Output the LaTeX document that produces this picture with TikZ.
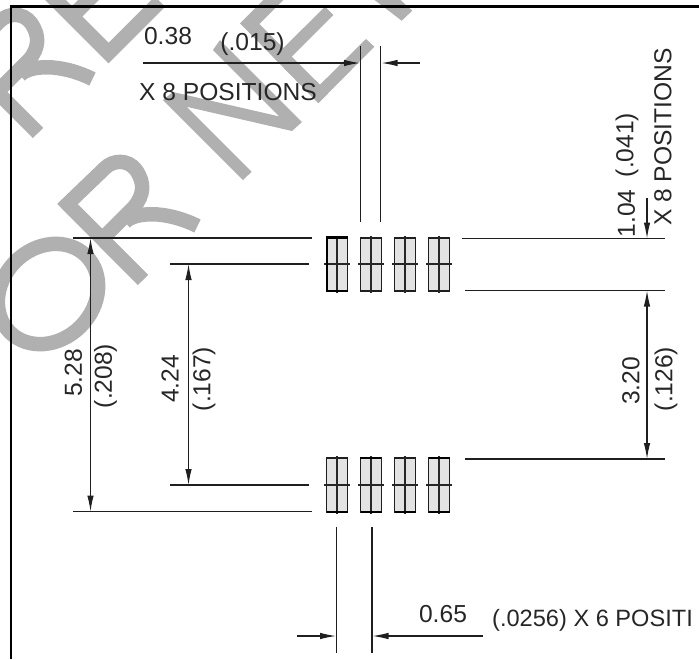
\documentclass[tikz,border=0pt]{standalone}
\usepackage{fontspec}
\setmainfont{Liberation Sans}
\usetikzlibrary{arrows.meta}
\definecolor{stampgray}{gray}{0.69}
\definecolor{padgray}{gray}{0.89}
\definecolor{dimgray}{gray}{0.12}

\begin{document}
\begin{tikzpicture}[x=1pt,y=-1pt,>={Latex[length=16pt,width=6.5pt]},
  stamp/.style={draw=stampgray,line width=14.5pt,line join=miter},
  stampfill/.style={fill=stampgray},
  dim/.style={draw=dimgray,line width=1.1pt},
  pad/.style={draw=dimgray,fill=padgray,line width=1.4pt},
  padaxis/.style={draw=black!85,line width=1.3pt},
  label/.style={inner sep=0pt,font=\fontsize{24.6}{25}\selectfont,text=black!85},
  vlabel/.style={label,rotate=90}]

\useasboundingbox (0,0) rectangle (699,659);
\clip (0,0) rectangle (699,659);

% watermark letters
\foreach \dx/\dy in {0/0,-105/-147}{
  \begin{scope}[shift={(\dx,\dy)}]
  \path[stamp] (143,280) -- (67.5,204) -- (105,168) .. controls (113,160) and (128,159) .. (136,170)
     .. controls (145,183) and (144,195) .. (134,207) -- (102,239);
  \path[stamp] (125,222) .. controls (135,212) and (165,210) .. (197.5,226);
  \end{scope}
}
\path[stamp] (45,-10.5) -- (108.5,53) -- (160,1.5);
\path[stamp] (72,16.5) -- (97,-8.5);
\path[stamp] (48,294) ellipse [x radius=54,y radius=46,rotate=45];
\path[stampfill] (243,180) -- (251.7,171.7) -- (186.8,106.8) -- (292,131) -- (302,122) -- (220,40)
   -- (213,50) -- (279.5,116.5) -- (173,92) -- (163,100) -- cycle;
\path[stampfill] (240,23.3) -- (318.3,103.3) -- (374.3,46.7) -- (366,39) -- (320,84.7) -- (291.7,56.7)
   -- (333.3,15) -- (325,6.7) -- (283.3,48) -- (259.3,24) -- (293.3,-10) -- (273.3,-10) -- cycle;
\path[stampfill] (368,-5) -- (401.7,20.7) -- (412.3,10.7) -- (395,-5) -- cycle;

% frame
\draw[line width=2.8pt] (11,659) -- (11,6.5) -- (699,6.5);

% pads
\foreach \x in {337,371,405,439}{
  \draw[pad] (\x-10.5,238) rectangle (\x+10.5,291);
  \draw[pad] (\x-10.5,458) rectangle (\x+10.5,512);
  \draw[padaxis] (\x,236) -- (\x,293);
  \draw[padaxis] (\x,456) -- (\x,514);
  \draw[padaxis] (\x-13,264) -- (\x+13,264);
  \draw[padaxis] (\x-13,485) -- (\x+13,485);
}
\draw[line width=2.2pt] (348,237.5) -- (327,237.5) -- (327,291) -- (348,291);
\draw[line width=2pt] (360,458) -- (381,458);
\draw[line width=2pt] (429,458) -- (450,458);
\foreach \x in {337,371,405,439}
  \draw[line width=1.8pt] (\x-10.5,512) -- (\x+10.5,512);

% extension lines
\draw[dim] (73,238) -- (312,238);
\draw[dim] (170,264) -- (309,264);
\draw[dim] (170,485) -- (309,485);
\draw[dim] (73,511.5) -- (312,511.5);
\draw[dim] (462,238.5) -- (665,238.5);
\draw[dim] (465,290.5) -- (665,290.5);
\draw[dim] (465,459) -- (665,459);
\draw[dim] (360.5,46) -- (360.5,222);
\draw[dim] (380.5,46) -- (380.5,222);
\draw[dim] (336.5,527) -- (336.5,653);
\draw[dim] (372,527) -- (372,653);

% dimension arrows
\coordinate (a528t) at (90.5,238);
\coordinate (a528b) at (90.5,511.5);
\coordinate (a424t) at (188.5,264);
\coordinate (a424b) at (188.5,485);
\coordinate (a320t) at (647,290.5);
\coordinate (a320b) at (647,459);
\draw[dim,<->] (a528t) -- (a528b);
\draw[dim,<->] (a424t) -- (a424b);
\draw[dim,<->] (a320t) -- (a320b);
\draw[dim,->] (647,198) -- (647,238.5);
\draw[dim,->] (143,63) -- (360,63);
\draw[dim,->] (420,63) -- (381.5,63);
\draw[dim,->] (297,636) -- (336,636);
\draw[dim,->] (483,636) -- (372.5,636);

% labels
\node[label] (w038) at (168,36) {0.38};
\node[label] (i015) at (252.5,44.5) {(.015)};
\node[label] (n8top) at (228,92.5) {X 8 POSITIONS};
\node[vlabel] (w528) at (73.5,373) {5.28};
\node[vlabel] (i208) at (105.5,376) {(.208)};
\node[vlabel] (w424) at (170,379) {4.24};
\node[vlabel] (i167) at (204,379) {(.167)};
\node[vlabel] (w320) at (631,381) {3.20};
\node[vlabel] (i126) at (666,379) {(.126)};
\node[vlabel] (w104) at (626.5,213.5) {1.04};
\node[vlabel] (i041) at (627,145) {(.041)};
\node[vlabel] (n8right) at (663,137) {X 8 POSITIONS};
\node[label] (w065) at (443,614) {0.65};
\node[label,anchor=west,font=\fontsize{23.6}{24}\selectfont] (i0256) at (492,620) {(.0256) X 6 POSITI};

\end{tikzpicture}
\end{document}
